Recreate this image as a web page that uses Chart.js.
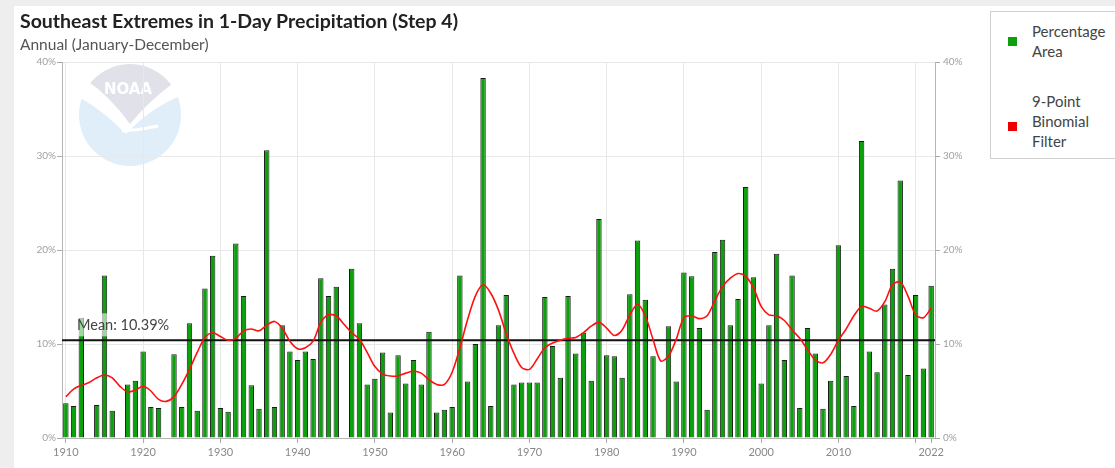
<!DOCTYPE html>
<html>
<head>
<meta charset="utf-8">
<script src="https://cdn.jsdelivr.net/npm/chart.js@4.4.0/dist/chart.umd.min.js"></script>
<style>
  html, body { margin: 0; padding: 0; background: #eeeeee; }
  body { width: 1115px; height: 468px; position: relative; overflow: hidden; font-family: Lato, "Noto Sans", sans-serif; }
  #panel { position: absolute; left: 14px; top: 6px; right: 0; bottom: 0; background: #fff; }
  #title { position: absolute; left: 20px; top: 10px; font-size: 19.5px; font-weight: 700; color: #222; line-height: 22px; white-space: nowrap; }
  #subtitle { position: absolute; left: 20px; top: 35px; font-size: 15.5px; color: #555; line-height: 18px; white-space: nowrap; }
  #wrap { position: absolute; left: 0; top: 0; width: 980px; height: 468px; }
  #legend { position: absolute; left: 990px; top: 11px; width: 135px; height: 146px; border: 1px solid #d0d0d0; background: #fff; color: #444; font-size: 15px; line-height: 20px; }
  .item { position: absolute; left: 41px; }
  .swatch { position: absolute; left: -24px; width: 9px; height: 9px; }
</style>
</head>
<body>
<div id="panel"></div>
<div id="wrap"><canvas id="myChart" width="980" height="468"></canvas></div>
<div id="title">Southeast Extremes in 1-Day Precipitation (Step 4)</div>
<div id="subtitle">Annual (January-December)</div>
<div id="legend">
  <div class="item" style="top:9px"><span class="swatch" style="top:16px;background:#0ca00c"></span>Percentage<br>Area</div>
  <div class="item" style="top:79px"><span class="swatch" style="top:31px;background:#ee0000"></span>9-Point<br>Binomial<br>Filter</div>
</div>
<script>
// Southeast extremes in 1-day precipitation, 1910-2022

const firstYear = 1910;
const lastYear = 2022;
const years = [];
for (let y = firstYear; y <= lastYear; y++) years.push(String(y));

// ✅ Percentage area per year (1910 ... 2022)
const percentArea = [
  3.7, 3.4, 12.8, 0, 3.5, 17.3, 2.9, 0, 5.7, 6.1,       // 1910s
  9.2, 3.3, 3.2, 0, 8.9, 3.3, 12.2, 2.9, 15.9, 19.4,    // 1920s
  3.2, 2.8, 20.7, 15.1, 5.6, 3.1, 30.6, 3.3, 12.0, 9.2, // 1930s
  8.3, 9.2, 8.4, 17.0, 15.1, 16.1, 0, 18.0, 12.2, 5.7,  // 1940s
  6.3, 9.1, 2.7, 8.8, 5.8, 8.3, 5.7, 11.3, 2.7, 3.0,    // 1950s
  3.3, 17.3, 6.0, 10.0, 38.3, 3.4, 12.0, 15.2, 5.7, 5.9, // 1960s
  5.9, 5.9, 15.0, 9.8, 6.4, 15.1, 9.0, 11.2, 6.1, 23.3, // 1970s
  8.8, 8.7, 6.4, 15.3, 21.0, 14.7, 8.7, 0, 11.9, 6.0,   // 1980s
  17.6, 17.2, 11.7, 3.0, 19.8, 21.1, 12.0, 14.8, 26.7, 17.1, // 1990s
  5.8, 12.0, 19.6, 8.3, 17.3, 3.2, 11.7, 9.0, 3.1, 6.1, // 2000s
  20.5, 6.6, 3.4, 31.6, 9.2, 7.0, 14.2, 18.0, 27.4, 6.7, // 2010s
  15.2, 7.4, 16.2,                                     // 2020s
];

// ✅ 9-point binomial filter
const binomialFilter = [
  4.4, 5.2, 5.6, 5.9, 6.4, 6.7, 6.4, 5.5, 4.9, 5.1,
  5.5, 5.0, 4.1, 3.9, 4.4, 5.7, 7.3, 9.1, 10.7, 11.2,
  10.8, 10.4, 10.6, 11.4, 11.6, 11.4, 12.0, 12.4, 11.7, 10.3,
  9.5, 9.6, 10.3, 12.3, 13.1, 13.0, 12.1, 11.2, 10.5, 9.1,
  7.6, 6.8, 6.6, 6.6, 6.9, 7.1, 6.9, 6.2, 5.7, 5.7,
  7.0, 9.6, 12.6, 15.1, 16.3, 15.4, 13.6, 11.1, 9.0, 7.5,
  7.3, 8.4, 9.6, 10.1, 10.4, 10.6, 10.7, 11.2, 11.9, 12.3,
  11.7, 10.9, 11.5, 13.1, 14.2, 13.0, 10.5, 8.2, 8.7, 10.5,
  12.8, 13.0, 12.7, 13.0, 14.6, 16.1, 17.0, 17.5, 17.2, 16.0,
  14.0, 13.1, 13.0, 12.5, 11.5, 10.6, 9.4, 8.3, 8.0, 8.9,
  10.4, 11.6, 13.0, 14.0, 13.8, 13.5, 14.5, 16.3, 16.6, 15.1,
  13.1, 12.8, 13.8,
];

const meanValue = 10.39;
const yTicks = [0, 10, 20, 30, 40];

// which years get a label / grid line
function isDecade(i) {
  return Number(years[i]) % 10 === 0;
}
function showLabel(i) {
  const y = Number(years[i]);
  return y === lastYear || (y % 10 === 0 && y !== 2020);
}

// NOAA watermark, under the grid
const noaaLogo = {
  id: "noaaLogo",
  beforeDraw(chart) {
    const ctx = chart.ctx;
    const cx = 130, cy = 115, r = 51;
    ctx.save();
    ctx.beginPath();
    ctx.arc(cx, cy, r, 0, Math.PI * 2);
    ctx.fillStyle = "#ffffff";
    ctx.fill();
    ctx.clip();
    // gray cap
    ctx.beginPath();
    ctx.moveTo(70, 55);
    ctx.lineTo(190, 55);
    ctx.lineTo(190, 82);
    ctx.lineTo(172, 84);
    ctx.quadraticCurveTo(148, 102, 130, 124);
    ctx.quadraticCurveTo(110, 96, 86, 80);
    ctx.lineTo(70, 78);
    ctx.closePath();
    ctx.fillStyle = "#e0e1e9";
    ctx.fill();
    // blue bottom
    ctx.beginPath();
    ctx.moveTo(70, 96);
    ctx.lineTo(79, 97);
    ctx.quadraticCurveTo(105, 112, 126, 134);
    ctx.quadraticCurveTo(150, 108, 182, 95);
    ctx.lineTo(190, 95);
    ctx.lineTo(190, 175);
    ctx.lineTo(70, 175);
    ctx.closePath();
    ctx.fillStyle = "#dfeef8";
    ctx.fill();
    // tail
    ctx.strokeStyle = "#ffffff";
    ctx.lineWidth = 3;
    ctx.beginPath();
    ctx.moveTo(122, 131);
    ctx.quadraticCurveTo(140, 130, 158, 126);
    ctx.stroke();
    ctx.fillStyle = "#ffffff";
    ctx.font = "bold 15px 'DejaVu Sans'";
    ctx.textAlign = "center";
    ctx.textBaseline = "middle";
    ctx.fillText("NOAA", 128, 90);
    ctx.restore();
  },
};

// mean line + label, drawn after the bars but under the red curve
const meanLine = {
  id: "meanLine",
  afterDatasetDraw(chart, args) {
    if (args.index !== 0) return;
    const { ctx, chartArea } = chart;
    const y = chart.scales.y.getPixelForValue(meanValue);
    ctx.save();
    ctx.strokeStyle = "#111";
    ctx.lineWidth = 2;
    ctx.beginPath();
    ctx.moveTo(chartArea.left, y);
    ctx.lineTo(chartArea.right, y);
    ctx.stroke();
    ctx.font = "14.5px Lato";
    const text = "Mean: " + meanValue.toFixed(2) + "%";
    const w = ctx.measureText(text).width;
    ctx.fillStyle = "rgba(255,255,255,0.6)";
    ctx.fillRect(chartArea.left + 11, y - 27, w + 8, 23);
    ctx.fillStyle = "#444";
    ctx.textBaseline = "alphabetic";
    ctx.fillText(text, chartArea.left + 15, y - 10);
    ctx.restore();
  },
};

const data = {
  labels: years,
  datasets: [
    {
      type: "bar",
      label: "Percentage Area",
      data: percentArea,
      backgroundColor: "#0ca00c",
      borderColor: "#1b1b1b",
      borderWidth: 1,
      barPercentage: 0.7,
      categoryPercentage: 1,
      order: 1,
    },
    {
      type: "line",
      label: "9-Point Binomial Filter",
      data: binomialFilter,
      borderColor: "#ff1010",
      borderWidth: 1.6,
      pointRadius: 0,
      tension: 0.3,
      order: 0,
    },
  ],
};

const tickFontY = { family: "Lato", size: 10 };

const config = {
  type: "bar",
  data: data,
  plugins: [noaaLogo, meanLine],
  options: {
    responsive: false,
    animation: false,
    devicePixelRatio: 1,
    layout: { padding: { top: 62, left: 20, right: 0, bottom: 0 } },
    plugins: {
      legend: { display: false },
      tooltip: { enabled: false },
    },
    scales: {
      x: {
        offset: true,
        grid: {
          offset: false,
          color: (c) => (isDecade(c.index) ? "#e8e8e8" : "rgba(0,0,0,0)"),
          tickColor: (c) => (isDecade(c.index) || c.index === years.length - 1 ? "#aaa" : "rgba(0,0,0,0)"),
          tickLength: 5,
        },
        border: { color: "#b5b5b5" },
        ticks: {
          autoSkip: false,
          maxRotation: 0,
          color: "#888",
          font: { family: "Lato", size: 11 },
          padding: 3,
          callback: (v, i) => (showLabel(i) ? years[i] : ""),
        },
        afterFit: (scale) => { scale.height = 30; },
      },
      y: {
        min: 0,
        max: 40,
        afterBuildTicks: (scale) => { scale.ticks = yTicks.map((v) => ({ value: v })); },
        grid: { color: "#e8e8e8", tickColor: "#aaa", tickLength: 5 },
        border: { color: "#b5b5b5" },
        ticks: { color: "#a0a0a0", font: tickFontY, padding: 1, callback: (v) => v + "%" },
        afterFit: (scale) => { scale.width = 42; },
      },
      y2: {
        position: "right",
        min: 0,
        max: 40,
        afterBuildTicks: (scale) => { scale.ticks = yTicks.map((v) => ({ value: v })); },
        grid: { drawOnChartArea: false, tickColor: "#aaa", tickLength: 5 },
        border: { color: "#b5b5b5" },
        ticks: { color: "#a0a0a0", font: tickFontY, padding: 3, callback: (v) => v + "%" },
        afterFit: (scale) => { scale.width = 45; },
      },
    },
  },
};

// ✅ Create chart
new Chart(document.getElementById("myChart"), config);
</script>
</body>
</html>
